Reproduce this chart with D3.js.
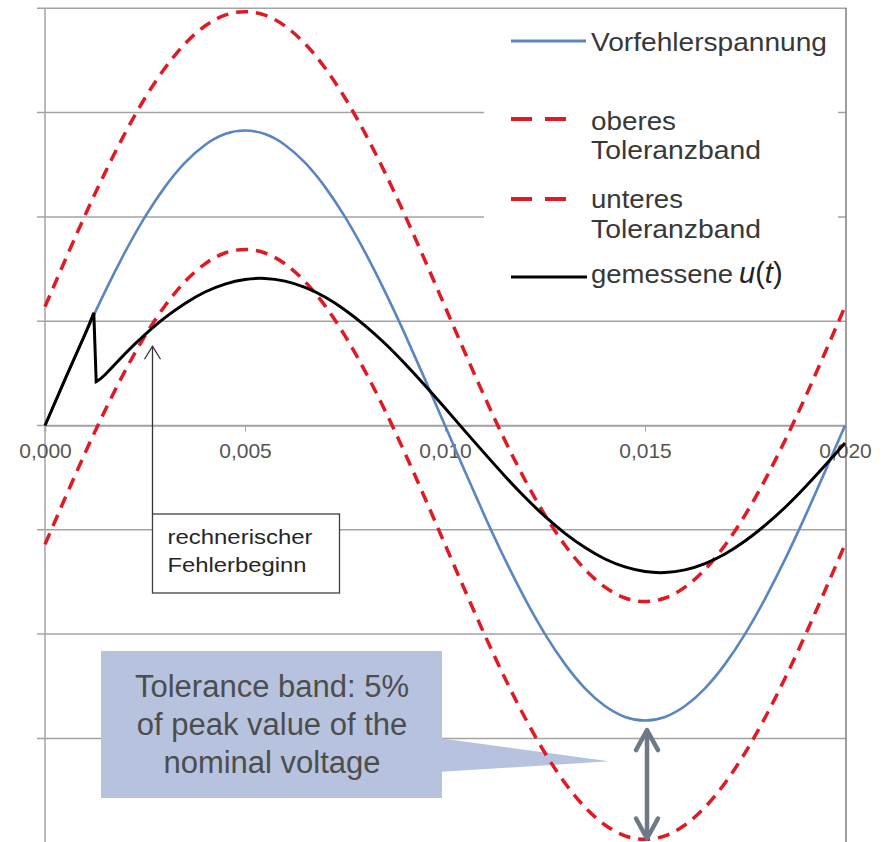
<!DOCTYPE html>
<html>
<head>
<meta charset="utf-8">
<script src="https://cdn.jsdelivr.net/npm/d3@7/dist/d3.min.js"></script>
<style>
  html, body { margin: 0; padding: 0; background: #ffffff; }
  svg { display: block; }
  text { font-family: "Liberation Sans", Arial, sans-serif; }
</style>
</head>
<body>
<svg id="chart" width="882" height="842"></svg>
<script>
// ---------- DATA (time in ms, voltage in p.u.) ----------
const times = [0,0.5,1,1.5,2,2.5,3,3.5,4,4.5,5,5.5,6,6.5,7,7.5,8,8.5,9,9.5,10,
               10.5,11,11.5,12,12.5,13,13.5,14,14.5,15,15.5,16,16.5,17,17.5,18,18.5,19,19.5,20];
const preFault = [0,0.221,0.437,0.642,0.831,1.000,1.144,1.260,1.345,1.397,1.414,1.397,1.345,1.260,1.144,1.000,0.831,0.642,0.437,0.221,0,
                  -0.221,-0.437,-0.642,-0.831,-1.000,-1.144,-1.260,-1.345,-1.397,-1.414,-1.397,-1.345,-1.260,-1.144,-1.000,-0.831,-0.642,-0.437,-0.221,0];
const upperBand = [0.570,0.791,1.007,1.212,1.401,1.570,1.714,1.830,1.915,1.967,1.984,1.967,1.915,1.830,1.714,1.570,1.401,1.212,1.007,0.791,0.570,
                   0.349,0.133,-0.072,-0.261,-0.430,-0.574,-0.690,-0.775,-0.827,-0.844,-0.827,-0.775,-0.690,-0.574,-0.430,-0.261,-0.072,0.133,0.349,0.570];
const lowerBand = [-0.570,-0.349,-0.133,0.072,0.261,0.430,0.574,0.690,0.775,0.827,0.844,0.827,0.775,0.690,0.574,0.430,0.261,0.072,-0.133,-0.349,-0.570,
                   -0.791,-1.007,-1.212,-1.401,-1.570,-1.714,-1.830,-1.915,-1.967,-1.984,-1.967,-1.915,-1.830,-1.714,-1.570,-1.401,-1.212,-1.007,-0.791,-0.570];
// measured voltage: before the step (up to 1.22 ms) and after it (from 1.28 ms)
const measuredTimesBefore = [0,0.5,1,1.22];
const measuredBefore = [0,0.221,0.437,0.54];
const measuredTimesAfter = [1.28,1.5,2,2.5,3,3.5,4,4.5,5,5.5,6,6.5,7,7.5,8,8.5,9,9.5,10,
                            10.5,11,11.5,12,12.5,13,13.5,14,14.5,15,15.5,16,16.5,17,17.5,18,18.5,19,19.5,20];
const measuredAfter = [0.21,0.243,0.344,0.436,0.517,0.585,0.640,0.678,0.700,0.705,0.692,0.662,0.616,0.554,0.479,0.393,0.296,0.192,0.084,
                       -0.027,-0.136,-0.243,-0.344,-0.436,-0.517,-0.585,-0.640,-0.678,-0.700,-0.705,-0.692,-0.662,-0.616,-0.554,-0.479,-0.393,-0.296,-0.192,-0.084];
const xTicks = [0, 0.005, 0.010, 0.015, 0.020];
const xTickLabels = ["0,000", "0,005", "0,010", "0,015", "0,020"];
const yGridValues = [-1.5, -1, -0.5, 0, 0.5, 1, 1.5, 2];
const legendLabels = ["Vorfehlerspannung", ["oberes", "Toleranzband"], ["unteres", "Toleranzband"], "gemessene"];
const annotationLines = ["rechnerischer", "Fehlerbeginn"];
const calloutLines = ["Tolerance band: 5%", "of peak value of the", "nominal voltage"];
const faultStartTime = 0.0027;   // s, arrow target
const faultStartValue = 0.38;    // p.u., arrow tip
const toleranceTime = 0.01505;   // s, double arrow position

// ---------- SETUP ----------
const svg = d3.select("#chart");
const x = d3.scaleLinear().domain([0, 0.02]).range([45, 845]);
const y = d3.scaleLinear().domain([-2, 2]).range([842.7, 8.3]);

const gridColor = "#a3a3a3";
const blue = "#5a86bf", red = "#e01a24";

// gridlines (with small outer ticks on the left)
svg.append("g").selectAll("line").data(yGridValues).join("line")
  .attr("x1", 37).attr("x2", 846)
  .attr("y1", d => y(d)).attr("y2", d => y(d))
  .attr("stroke", gridColor).attr("stroke-width", 1.5);

// left axis & right border
svg.append("line").attr("x1", 45).attr("x2", 45).attr("y1", y(2)).attr("y2", 842)
  .attr("stroke", gridColor).attr("stroke-width", 1.5);
svg.append("line").attr("x1", 846).attr("x2", 846).attr("y1", y(2) - 0.5).attr("y2", 842)
  .attr("stroke", "#7f7f7f").attr("stroke-width", 1.5);

// x-axis at zero
const xAxis = d3.axisBottom(x).tickValues(xTicks).tickSize(6).tickFormat((d, i) => xTickLabels[i]);
const gx = svg.append("g").attr("transform", `translate(0,${y(0)})`).call(xAxis);
gx.select(".domain").attr("stroke", gridColor).attr("stroke-width", 1.5);
gx.selectAll(".tick line").attr("stroke", gridColor).attr("stroke-width", 1);
gx.selectAll(".tick text").attr("font-size", 21).attr("fill", "#555555")
  .attr("font-family", "Liberation Sans, Arial, sans-serif").attr("dy", null).attr("y", 32);

// legend background
svg.append("rect").attr("x", 484).attr("y", 16).attr("width", 354).attr("height", 288).attr("fill", "#ffffff");

// callout (under curves)
const cb = { x0: 101, y0: 651, x1: 442, y1: 798 };
const tipX = x(0.01410), tipY = y(-1.61);
svg.append("path")
  .attr("d", `M${cb.x0},${cb.y0}H${cb.x1}V${y(-1.5)}L${tipX},${tipY}L${cb.x1},${y(-1.66)}V${cb.y1}H${cb.x0}Z`)
  .attr("fill", "#b7c3de");
svg.append("g").selectAll("text").data(calloutLines).join("text")
  .attr("x", (cb.x0 + cb.x1) / 2 + 0.5).attr("y", (d, i) => 697 + i * 37.8)
  .attr("text-anchor", "middle").attr("font-size", 31).attr("fill", "#4d4d4d")
  .text(d => d);

// ---------- CURVES ----------
const line = d3.line().curve(d3.curveNatural);
const pts = (ts, vs) => ts.map((t, i) => [x(t / 1000), y(vs[i])]);

svg.append("path").attr("d", line(pts(times, upperBand))).attr("fill", "none")
  .attr("stroke", red).attr("stroke-width", 3.5).attr("stroke-dasharray", "12,8");
svg.append("path").attr("d", line(pts(times, lowerBand))).attr("fill", "none")
  .attr("stroke", red).attr("stroke-width", 3.5).attr("stroke-dasharray", "12,8");
svg.append("path").attr("d", line(pts(times, preFault))).attr("fill", "none")
  .attr("stroke", blue).attr("stroke-width", 2.6);
const pathBefore = line(pts(measuredTimesBefore, measuredBefore));
const pathAfter = line(pts(measuredTimesAfter, measuredAfter)).replace(/^M/, "L");
svg.append("path").attr("d", pathBefore + pathAfter).attr("fill", "none")
  .attr("stroke", "#000").attr("stroke-width", 3).attr("stroke-linejoin", "miter");

// ---------- LEGEND ----------
const lg = svg.append("g");
const legTextX = 591;
const lt = (txt, yy, w) => lg.append("text").attr("x", legTextX).attr("y", yy)
  .attr("font-size", 26).attr("fill", "#383838")
  .attr("textLength", w).attr("lengthAdjust", "spacingAndGlyphs").text(txt);
lg.append("line").attr("x1", 511).attr("x2", 586).attr("y1", 41).attr("y2", 41)
  .attr("stroke", blue).attr("stroke-width", 3);
lt(legendLabels[0], 51, 236);
[[119, 130, 159], [199, 208, 238]].forEach((r, i) => {
  lg.append("line").attr("x1", 511).attr("x2", 567).attr("y1", r[0]).attr("y2", r[0])
    .attr("stroke", red).attr("stroke-width", 4).attr("stroke-dasharray", "21,13");
  lt(legendLabels[i + 1][0], r[1], i === 0 ? 85 : 92);
  lt(legendLabels[i + 1][1], r[2], 170);
});
lg.append("line").attr("x1", 511).attr("x2", 587).attr("y1", 277).attr("y2", 277)
  .attr("stroke", "#000").attr("stroke-width", 3.2);
lt(legendLabels[3], 283, 142);
const ut = lg.append("text").attr("x", 739).attr("y", 283).attr("font-size", 29).attr("fill", "#222")
  .attr("font-family", "Liberation Serif, Times New Roman, serif");
ut.append("tspan").attr("font-style", "italic").text("u");
ut.append("tspan").text("(");
ut.append("tspan").attr("font-style", "italic").text("t");
ut.append("tspan").text(")");

// ---------- ANNOTATION: rechnerischer Fehlerbeginn ----------
const ax = x(faultStartTime) - 0.5;
const tipA = y(faultStartValue);
svg.append("rect").attr("x", ax).attr("y", 514).attr("width", 187).attr("height", 79)
  .attr("fill", "#ffffff").attr("stroke", "#3f3f3f").attr("stroke-width", 1.3);
svg.append("line").attr("x1", ax).attr("x2", ax).attr("y1", 514).attr("y2", tipA)
  .attr("stroke", "#333").attr("stroke-width", 1.3);
svg.append("path").attr("d", `M${ax - 8},${tipA + 13}L${ax},${tipA}L${ax + 8},${tipA + 13}`)
  .attr("fill", "none").attr("stroke", "#333").attr("stroke-width", 1.3);
svg.append("g").selectAll("text").data(annotationLines).join("text")
  .attr("x", ax + 15).attr("y", (d, i) => 544 + i * 28)
  .attr("font-size", 21).attr("fill", "#262626")
  .attr("textLength", (d, i) => i === 0 ? 145 : 139).attr("lengthAdjust", "spacingAndGlyphs")
  .text(d => d);

// ---------- DOUBLE ARROW (tolerance) ----------
const dx = x(toleranceTime);
const yTop = y(-1.46), yBot = y(-1.98);
svg.append("line").attr("x1", dx).attr("x2", dx).attr("y1", yTop + 2).attr("y2", yBot - 2)
  .attr("stroke", "#6e7986").attr("stroke-width", 4.5);
svg.append("path").attr("d", `M${dx - 11},${yTop + 20}L${dx},${yTop}L${dx + 11},${yTop + 20}`)
  .attr("fill", "none").attr("stroke", "#6e7986").attr("stroke-width", 4.5).attr("stroke-linejoin", "round").attr("stroke-linecap", "round");
svg.append("path").attr("d", `M${dx - 11},${yBot - 20}L${dx},${yBot}L${dx + 11},${yBot - 20}`)
  .attr("fill", "none").attr("stroke", "#6e7986").attr("stroke-width", 4.5).attr("stroke-linejoin", "round").attr("stroke-linecap", "round");
</script>
</body>
</html>
